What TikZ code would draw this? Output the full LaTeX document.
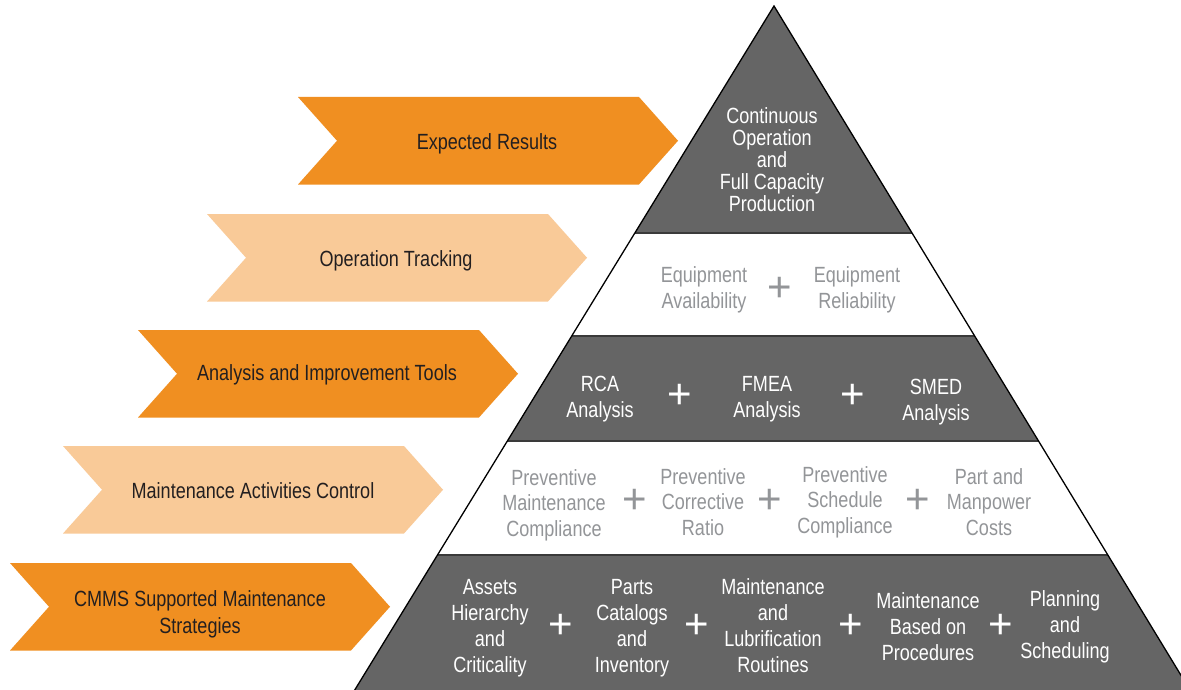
\documentclass[tikz,border=0pt]{standalone}
\usepackage{fontspec}
\setmainfont[FakeStretch=0.82]{Liberation Sans}
\newfontfamily\plusfont{Liberation Sans}
\definecolor{orangeD}{HTML}{F08F21}
\definecolor{orangeL}{HTML}{F9CA98}
\definecolor{bandgray}{HTML}{656565}
\definecolor{txtdark}{HTML}{231F20}
\definecolor{txtgray}{HTML}{939598}
\definecolor{sepgray}{HTML}{3A3A3A}
\newcommand\mychev[3]{%
  \fill[#3] (#1,#2) -- ++(341,0) -- ++(39,43.75) -- ++(-39,43.75) -- ++(-341,0) -- ++(39,-43.75) -- cycle;}
\begin{document}
\begin{tikzpicture}[x=1pt,y=-1pt,
  chevdark/.style={fill=orangeD},
  chevlight/.style={fill=orangeL},
  chevtext/.style={text=txtdark,font=\fontsize{22}{27}\selectfont,align=center,inner sep=0pt},
  bandfill/.style={fill=bandgray},
  whitefill/.style={fill=white},
  sepline/.style={draw=sepgray,line width=2pt},
  outline/.style={draw=black,line width=1.3pt,line join=miter},
  toptext/.style={text=white,font=\fontsize{22}{22}\selectfont,align=center,inner sep=0pt},
  wtext/.style={text=white,font=\fontsize{22}{26}\selectfont,align=center,inner sep=0pt},
  gtext/.style={text=txtgray,font=\fontsize{22}{25.5}\selectfont,align=center,inner sep=0pt},
  plusw/.style={text=white,font=\plusfont\fontsize{42}{42}\selectfont,inner sep=0pt},
  plusg/.style={text=txtgray,font=\plusfont\fontsize{42}{42}\selectfont,inner sep=0pt}]
\useasboundingbox (0,0) rectangle (1181,690);
\clip (0,0) rectangle (1181,690);
\fill[white] (0,0) rectangle (1181,690);

% chevrons
\mychev{298}{97}{chevdark}
\mychev{207}{214}{chevlight}
\mychev{138}{330}{chevdark}
\mychev{63}{446}{chevlight}
\mychev{10}{563}{chevdark}

\node[chevtext] (er)   at (487,143.5) {Expected Results};
\node[chevtext] (ot)   at (396,260.5) {Operation Tracking};
\node[chevtext] (ait)  at (327,374.5) {Analysis and Improvement Tools};
\node[chevtext] (mac)  at (253,490.5) {Maintenance Activities Control};
\node[chevtext] (cmms) at (200,614) {CMMS Supported Maintenance\\Strategies};

% pyramid bands
\path[bandfill] (774,6) -- (912.0,233) -- (634.8,233) -- cycle;
\path[whitefill] (634.8,233) -- (912.0,233) -- (974.6,336) -- (571.7,336) -- cycle;
\path[bandfill] (571.7,336) -- (974.6,336) -- (1038.5,441) -- (507.3,441) -- cycle;
\path[whitefill] (507.3,441) -- (1038.5,441) -- (1107.8,555) -- (437.5,555) -- cycle;
\path[bandfill] (437.5,555) -- (1107.8,555) -- (1196,700) -- (348.6,700) -- cycle;
\draw[sepline] (634.8,233) -- (912.0,233);
\draw[sepline] (571.7,336) -- (974.6,336);
\draw[sepline] (507.3,441) -- (1038.5,441);
\draw[sepline] (437.5,555) -- (1107.8,555);
\draw[outline] (348.6,700) -- (774,6) -- (1196,700);

% band 1
\node[toptext] (top) at (772,160) {Continuous\\Operation\\and\\Full Capacity\\Production};
% band 2
\node[gtext] (ea) at (704,290) {Equipment\\Availability};
\node[plusg] (p21) at (780,289) {+};
\node[gtext] (erl) at (857,290) {Equipment\\Reliability};
% band 3
\node[wtext] (rca) at (600,399) {RCA\\Analysis};
\node[plusw] (p31) at (680,396) {+};
\node[wtext] (fmea) at (767,399) {FMEA\\Analysis};
\node[plusw] (p32) at (853,396) {+};
\node[wtext] (smed) at (936,402) {SMED\\Analysis};
% band 4
\node[gtext] (pmc) at (554,505) {Preventive\\Maintenance\\Compliance};
\node[plusg] (p41) at (635,501) {+};
\node[gtext] (pcr) at (703,502) {Preventive\\Corrective\\Ratio};
\node[plusg] (p42) at (770,501) {+};
\node[gtext] (psc) at (845,502) {Preventive\\Schedule\\Compliance};
\node[plusg] (p43) at (918,501) {+};
\node[gtext] (pmp) at (989,502) {Part and\\Manpower\\Costs};
% band 5
\node[wtext] (ahc) at (490,628) {Assets\\Hierarchy\\and\\Criticality};
\node[plusw] (p51) at (561,626) {+};
\node[wtext] (pci) at (632,628) {Parts\\Catalogs\\and\\Inventory};
\node[plusw] (p52) at (697,626) {+};
\node[wtext] (mlr) at (773,626) {Maintenance\\and\\Lubrification\\Routines};
\node[plusw] (p53) at (851,626) {+};
\node[wtext] (mbp) at (928,627) {Maintenance\\Based on\\Procedures};
\node[plusw] (p54) at (1001,626) {+};
\node[wtext] (pls) at (1065,627) {Planning\\and\\Scheduling};
\end{tikzpicture}
\end{document}
